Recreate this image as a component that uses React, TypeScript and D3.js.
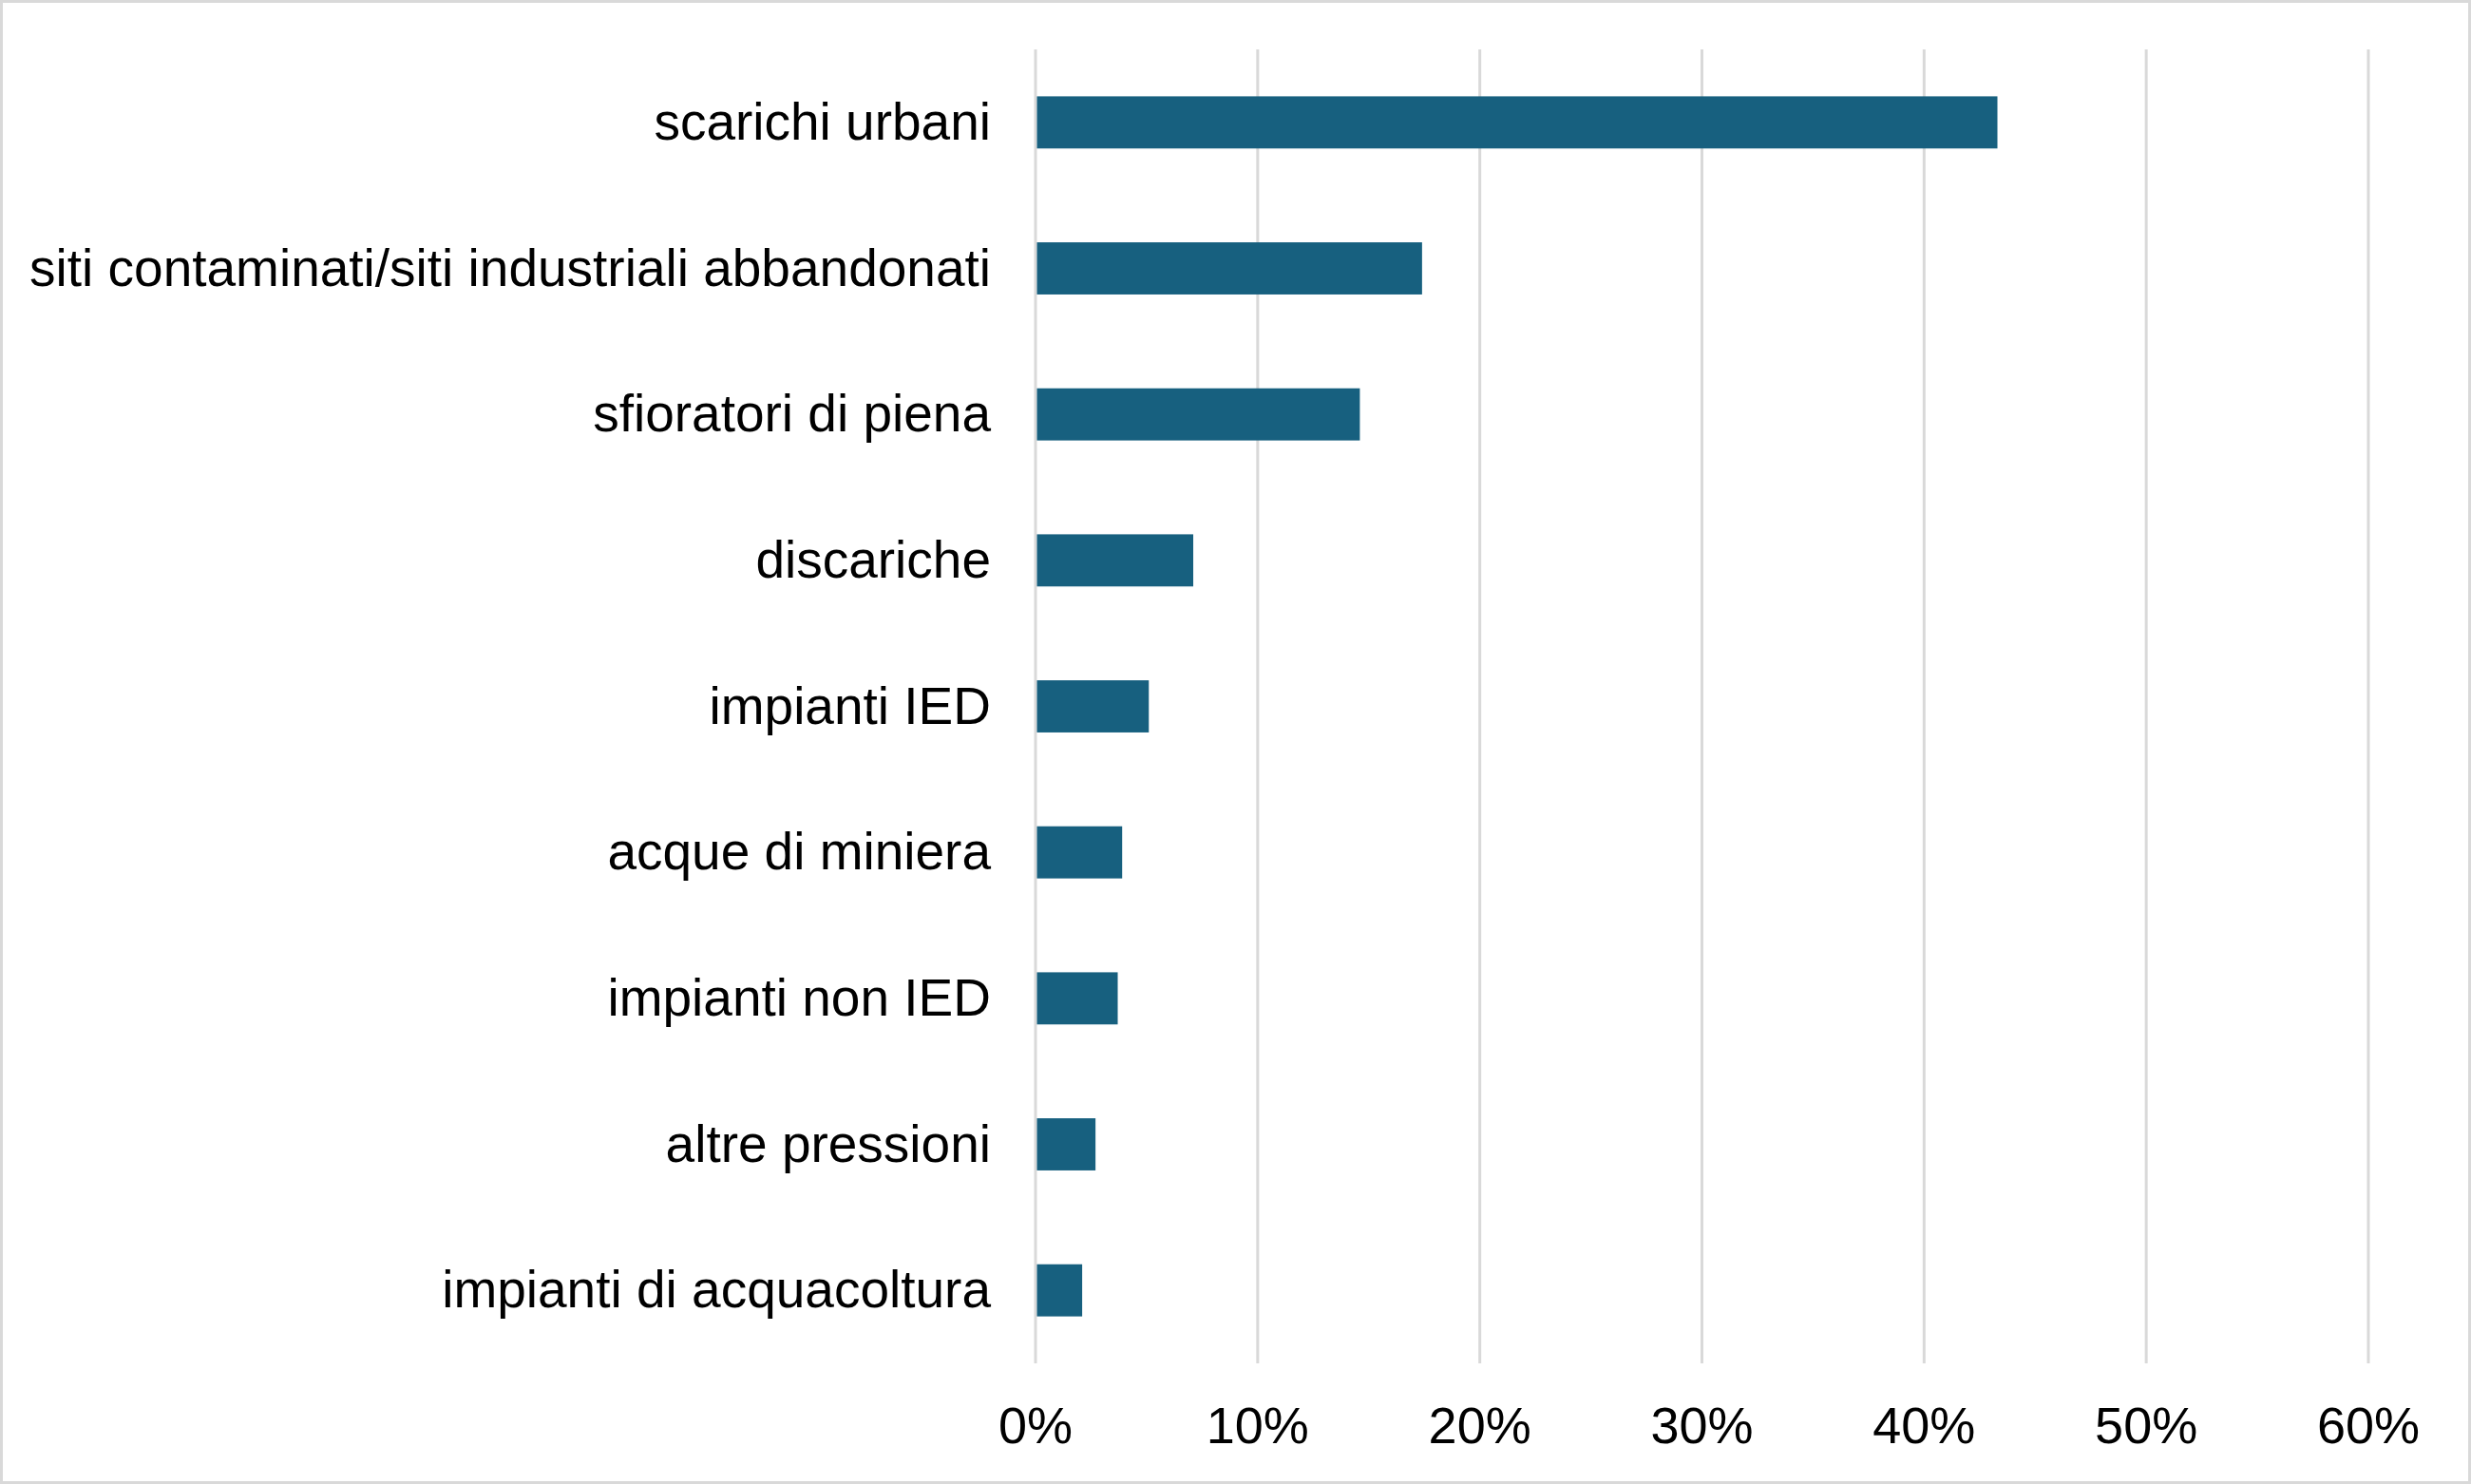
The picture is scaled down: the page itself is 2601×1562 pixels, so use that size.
import React from "react";
import * as d3 from "d3";

const categories = [
  "scarichi urbani",
  "siti contaminati/siti industriali abbandonati",
  "sfioratori di piena",
  "discariche",
  "impianti IED",
  "acque di miniera",
  "impianti non IED",
  "altre pressioni",
  "impianti di acquacoltura",
];
const values = [0.433, 0.174, 0.146, 0.071, 0.051, 0.039, 0.037, 0.027, 0.021];
const ticks = [0, 0.1, 0.2, 0.3, 0.4, 0.5, 0.6];

const W = 2601;
const H = 1562;
const FONT = "'Liberation Sans', Arial, sans-serif";

export default function App() {
  const x = d3.scaleLinear().domain([0, 0.6]).range([1090, 2493]);
  const y = d3.scaleBand<string>().domain(categories).range([52, 1435]).padding(0);
  const barH = y.bandwidth() / 2.8;
  const fmt = d3.format(".0%");

  return (
    <svg
      width={W}
      height={H}
      style={{ position: "absolute", left: 0, top: 0, background: "#fff" }}
    >
      <rect x={0} y={0} width={W} height={H} fill="#fff" />
      <rect x={1.5} y={1.5} width={W - 3} height={H - 3} fill="none" stroke="#d9d9d9" strokeWidth={3} />
      {ticks.map((t) => (
        <line key={t} x1={x(t)} x2={x(t)} y1={52} y2={1435} stroke="#d9d9d9" strokeWidth={3} />
      ))}
      {categories.map((c, i) => {
        const cy = (y(c) as number) + y.bandwidth() / 2;
        return (
          <g key={c}>
            <rect
              x={x(0) + 1.5}
              y={cy - barH / 2}
              width={x(values[i]) - x(0) - 1.5}
              height={barH}
              fill="#17607f"
            />
            <text
              x={1043}
              y={cy + 18}
              textAnchor="end"
              fontFamily={FONT}
              fontSize={55}
              fill="#000"
            >
              {c}
            </text>
          </g>
        );
      })}
      {ticks.map((t) => (
        <text
          key={"t" + t}
          x={x(t)}
          y={1519}
          textAnchor="middle"
          fontFamily={FONT}
          fontSize={54}
          fill="#000"
        >
          {fmt(t)}
        </text>
      ))}
    </svg>
  );
}
